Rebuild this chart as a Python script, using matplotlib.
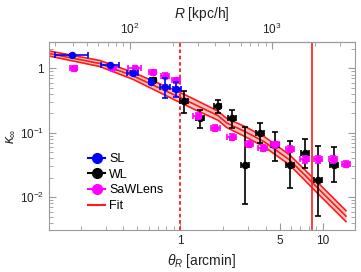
import matplotlib
matplotlib.use("Agg")
import matplotlib.pyplot as plt
from matplotlib.lines import Line2D
from matplotlib.ticker import LogLocator, FixedLocator, FixedFormatter, NullFormatter
import numpy as np

plt.rcParams['font.family'] = ['Liberation Sans', 'DejaVu Sans']
plt.rcParams['mathtext.fontset'] = 'custom'
plt.rcParams['mathtext.rm'] = 'Liberation Sans'
plt.rcParams['mathtext.it'] = 'Liberation Sans:italic'
plt.rcParams['mathtext.bf'] = 'Liberation Sans:bold'

# ---- data ----
sl_theta = [0.173, 0.321, 0.466, 0.62, 0.78, 0.94]
sl_kappa = [1.63, 1.12, 0.86, 0.62, 0.518, 0.472]
sl_theta_lo = [0.132, 0.277, 0.425, 0.60, 0.72, 0.885]
sl_theta_hi = [0.224, 0.372, 0.507, 0.64, 0.848, 1.007]
sl_kappa_lo = [1.58, 1.08, 0.80, 0.57, 0.35, 0.362]
sl_kappa_hi = [1.68, 1.16, 0.92, 0.68, 0.70, 0.62]

wl_theta = [0.646, 1.06, 1.375, 1.83, 2.32, 2.85, 3.63, 4.62, 5.89, 7.5, 9.31, 12.06]
wl_kappa = [0.658, 0.31, 0.167, 0.26, 0.167, 0.0315, 0.1, 0.064, 0.032, 0.048, 0.0184, 0.032]
wl_theta_lo = [0.61, 1.0, 1.29, 1.72, 2.18, 2.67, 3.4, 4.33, 5.52, 7.03, 8.72, 11.3]
wl_theta_hi = [0.68, 1.13, 1.47, 1.95, 2.48, 3.04, 3.87, 4.93, 6.28, 8.0, 9.93, 12.87]
wl_kappa_lo = [0.60, 0.20, 0.117, 0.205, 0.117, 0.0078, 0.07, 0.037, 0.0137, 0.0286, 0.0052, 0.0173]
wl_kappa_hi = [0.72, 0.444, 0.225, 0.322, 0.225, 0.124, 0.143, 0.102, 0.075, 0.079, 0.062, 0.0606]

sw_theta = [0.179, 0.335, 0.48, 0.64, 0.78, 0.94, 1.325, 1.77, 2.3, 3.05, 3.79, 4.62, 5.89, 7.5, 9.31, 11.9, 14.6]
sw_kappa = [1.0, 1.02, 1.02, 0.867, 0.767, 0.658, 0.182, 0.12, 0.0867, 0.0668, 0.0573, 0.066, 0.0558, 0.0386, 0.0386, 0.0386, 0.0327]
sw_theta_lo = [0.168, 0.315, 0.43, 0.60, 0.73, 0.88, 1.24, 1.66, 2.15, 2.85, 3.54, 4.32, 5.5, 7.0, 8.7, 11.1, 13.65]
sw_theta_hi = [0.19, 0.356, 0.53, 0.68, 0.83, 1.0, 1.41, 1.89, 2.46, 3.26, 4.05, 4.94, 6.3, 8.0, 9.95, 12.7, 15.6]
sw_kappa_lo = [0.92, 0.94, 0.95, 0.79, 0.70, 0.60, 0.164, 0.108, 0.078, 0.06, 0.0515, 0.059, 0.050, 0.0345, 0.0345, 0.0345, 0.0293]
sw_kappa_hi = [1.09, 1.11, 1.1, 0.95, 0.84, 0.72, 0.202, 0.133, 0.096, 0.074, 0.0635, 0.073, 0.062, 0.043, 0.043, 0.043, 0.0365]

fit_theta = [0.120, 0.273, 0.466, 1.0, 1.268, 1.84, 2.13, 2.85, 3.93, 5.89, 9.57, 14.6]
fit_kappa = [1.698, 1.187, 0.765, 0.352, 0.274, 0.185, 0.1415, 0.1045, 0.0717, 0.0377, 0.0129, 0.00509]
fit_upper = [1.858, 1.322, 0.867, 0.421, 0.328, 0.217, 0.166, 0.125, 0.0858, 0.0451, 0.0157, 0.00619]
fit_lower = [1.552, 1.066, 0.675, 0.294, 0.229, 0.157, 0.120, 0.0873, 0.0599, 0.0315, 0.0106, 0.00419]

theta_inner = 1.0
theta_outer = 8.45
kpc_per_arcmin = 226.0

# ---- figure ----
fig = plt.figure(figsize=(3.61, 2.72), dpi=100)
ax = fig.add_axes([49/361, 42/272, 306/361, 188/272])
ax.set_xscale('log')
ax.set_yscale('log')
ax.set_xlim(0.12, 16.9)
ax.set_ylim(0.0031, 2.56)

red = '#ff1a1a'
ax.fill_between(fit_theta, fit_lower, fit_upper, color='#f9c6c6', zorder=1, lw=0)
for arr in (fit_upper, fit_kappa, fit_lower):
    ax.plot(fit_theta, arr, color=red, lw=1.2, zorder=2)

ax.axvline(theta_inner, color=red, lw=1.3, ls=(0, (2, 1.5)), zorder=2)
ax.axvline(theta_outer, color=red, lw=1.2, zorder=2)

def eb(t, k, tlo, thi, klo, khi, color, z):
    t = np.array(t); k = np.array(k)
    xerr = [t - np.array(tlo), np.array(thi) - t]
    yerr = [k - np.array(klo), np.array(khi) - k]
    ax.errorbar(t, k, xerr=xerr, yerr=yerr, fmt='o', color=color, ms=4.4,
                elinewidth=1.2, capsize=2, capthick=1.2, zorder=z)

eb(wl_theta, wl_kappa, wl_theta_lo, wl_theta_hi, wl_kappa_lo, wl_kappa_hi, 'black', 3)
eb(sw_theta, sw_kappa, sw_theta_lo, sw_theta_hi, sw_kappa_lo, sw_kappa_hi, '#ff00ff', 4)
eb(sl_theta, sl_kappa, sl_theta_lo, sl_theta_hi, sl_kappa_lo, sl_kappa_hi, '#0000ff', 5)

framec = '#9a9a9a'
for s in ax.spines.values():
    s.set_color(framec)
    s.set_linewidth(0.8)

ax.xaxis.set_major_locator(FixedLocator([1, 5, 10]))
ax.xaxis.set_major_formatter(FixedFormatter(['1', '5', '10']))
ax.xaxis.set_minor_locator(LogLocator(base=10, subs=np.arange(1, 10), numticks=20))
ax.xaxis.set_minor_formatter(NullFormatter())
ax.yaxis.set_major_locator(FixedLocator([0.01, 0.1, 1]))
ax.yaxis.set_major_formatter(FixedFormatter([r'$10^{-2}$', r'$10^{-1}$', '1']))
ax.yaxis.set_minor_locator(LogLocator(base=10, subs=np.arange(2, 10), numticks=20))
ax.yaxis.set_minor_formatter(NullFormatter())
ax.tick_params(which='both', direction='in', color=framec, labelsize=8.5,
               labelcolor='#222222', top=False, right=True)
ax.tick_params(which='major', length=5, width=0.8)
ax.tick_params(which='minor', length=2.8, width=0.6)

sec = ax.secondary_xaxis('top', functions=(lambda t: t * kpc_per_arcmin,
                                           lambda r: r / kpc_per_arcmin))
sec.set_xscale('log')
sec.xaxis.set_major_locator(FixedLocator([100, 1000]))
sec.xaxis.set_major_formatter(FixedFormatter([r'$10^2$', r'$10^3$']))
sec.xaxis.set_minor_locator(LogLocator(base=10, subs=np.arange(2, 10), numticks=20))
sec.xaxis.set_minor_formatter(NullFormatter())
sec.tick_params(which='both', direction='in', color=framec, labelsize=8.5, labelcolor='#222222')
sec.tick_params(which='major', length=5, width=0.8)
sec.tick_params(which='minor', length=2.8, width=0.6)
sec.spines['top'].set_color(framec)
sec.set_xlabel(r'$R$ [kpc/h]', fontsize=10, labelpad=3, color='#222222')

ax.set_xlabel(r'$\theta_R$ [arcmin]', fontsize=10, labelpad=4, color='#222222')
ax.set_ylabel(r'$\kappa_\infty$', fontsize=10, labelpad=2, color='#222222')

handles = [
    Line2D([], [], color='#0000ff', marker='o', ms=7, lw=1.5),
    Line2D([], [], color='black', marker='o', ms=7, lw=1.5),
    Line2D([], [], color='#ff00ff', marker='o', ms=7, lw=1.5),
    Line2D([], [], color=red, lw=1.5),
]
ax.legend(handles, ['SL', 'WL', 'SaWLens', 'Fit'], loc='upper left',
          bbox_to_anchor=(0.127, 0.41), frameon=False, fontsize=9,
          handlelength=1.4, handletextpad=0.3, labelspacing=0.3,
          borderpad=0, borderaxespad=0)

fig.savefig('out.png', dpi=100)
